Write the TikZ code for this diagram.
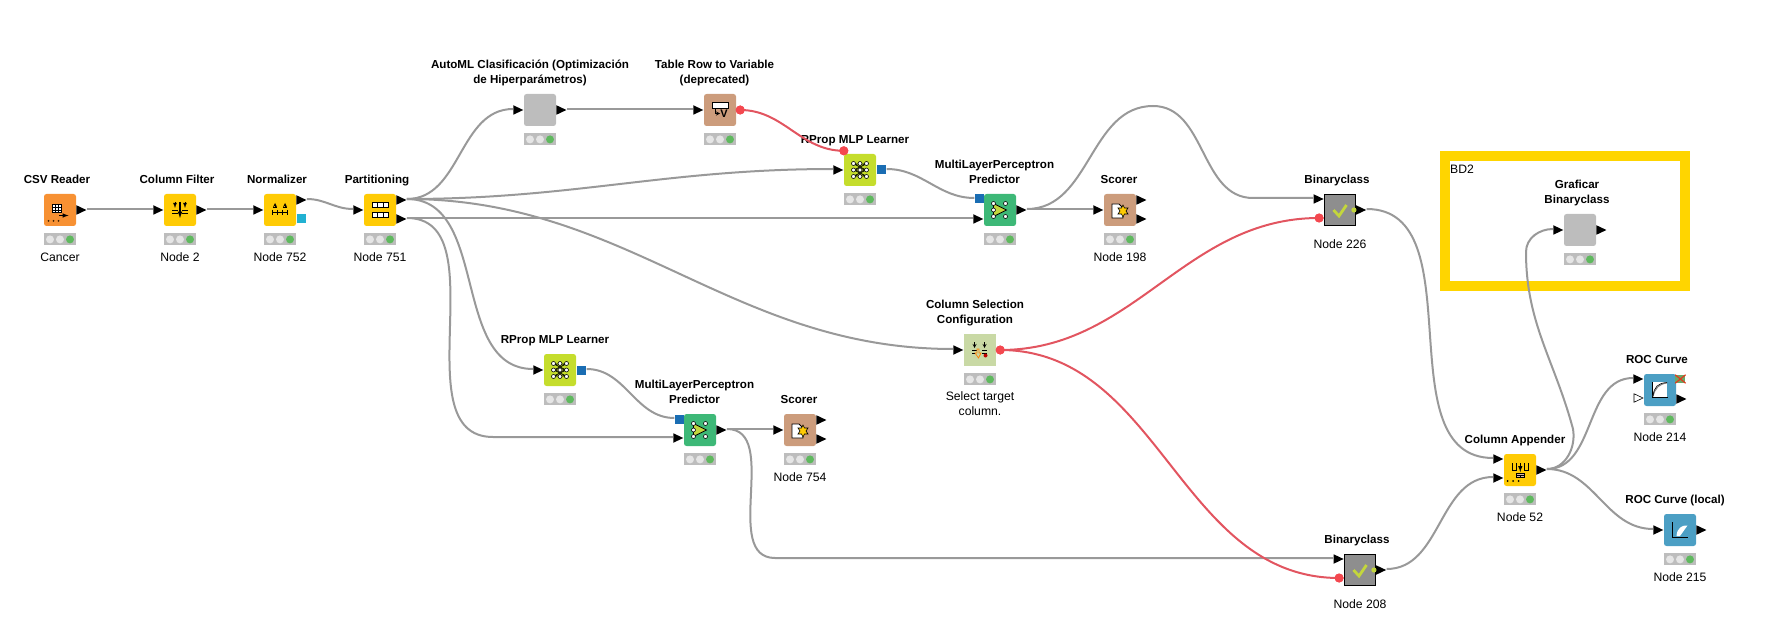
\documentclass[tikz,border=0pt]{standalone}
\usepackage{fontspec}
\setmainfont{Liberation Sans}
\usetikzlibrary{positioning,shapes.geometric}
\definecolor{wireGray}{HTML}{999999}
\definecolor{wireRed}{HTML}{E25560}
\definecolor{portRed}{HTML}{F4484F}
\definecolor{portBlue}{HTML}{1A6DB3}
\definecolor{portCyan}{HTML}{22B1D2}
\definecolor{readerOrange}{HTML}{F79133}
\definecolor{manipYellow}{HTML}{FFCB05}
\definecolor{otherTan}{HTML}{CC9C7C}
\definecolor{metaGray}{HTML}{BDBDBD}
\definecolor{learnLime}{HTML}{C5DD2C}
\definecolor{predGreen}{HTML}{3DB877}
\definecolor{configGreen}{HTML}{C9D9A5}
\definecolor{viewBlue}{HTML}{4C9FC4}
\definecolor{binGray}{HTML}{8E8E8E}
\definecolor{checkLime}{HTML}{C3D63C}
\definecolor{lampGreen}{HTML}{5FB95E}
\definecolor{frameGold}{HTML}{FFD500}
\begin{document}
\begin{tikzpicture}[
        x=1pt, y=-1pt,
        knimeNode/.style={rectangle, rounded corners=2.5pt, minimum size=32pt, inner sep=0pt},
        binNode/.style={rectangle, draw=black, line width=0.8pt, fill=binGray, minimum size=31pt, inner sep=0pt},
        lightBar/.style={rectangle, fill=metaGray, minimum width=32pt, minimum height=12pt, inner sep=0pt},
        inPort/.style={isosceles triangle, isosceles triangle stretches, fill=black, minimum width=9.5pt, minimum height=10pt, inner sep=0pt, anchor=east},
        outPort/.style={isosceles triangle, isosceles triangle stretches, fill=black, minimum width=9.5pt, minimum height=10pt, inner sep=0pt, anchor=west},
        redPort/.style={circle, fill=portRed, minimum size=9pt, inner sep=0pt},
        modelPort/.style={rectangle, minimum size=9pt, inner sep=0pt},
        titleText/.style={font=\fontsize{11.6}{15}\selectfont\bfseries, align=center, inner sep=0pt, execute at end node=\strut},
        noteText/.style={font=\fontsize{12.2}{15}\selectfont, align=center, inner sep=0pt, execute at begin node=\strut},
        wire/.style={draw=wireGray, line width=2pt, transform canvas={yshift=1pt}},
        redWire/.style={draw=wireRed, line width=2pt},
        iconLine/.style={draw=black, line width=0.8pt},
        iconReader/.pic={
            \draw[iconLine, fill=white] (-7.5,-6) rectangle (1.5,2.5);
            \draw[iconLine] (-7.5,-3) -- (1.5,-3) (-7.5,0) -- (1.5,0) (-4.5,-6) -- (-4.5,2.5) (-1.5,-6) -- (-1.5,2.5);
            \draw[iconLine, line width=1pt, -latex] (-1,5.5) -- (8.5,5.5);
            \foreach \dx in {-11.5,-6.5,-1.5} \fill[black!75!orange] (\dx,11) circle[radius=1pt];
        },
        iconFilter/.pic={
            \draw[iconLine, line width=1.2pt, -latex] (0,-8) -- (0,8);
            \foreach \dx in {-5,5} {
                \draw[iconLine, -latex] (\dx,-8) -- (\dx,-2);
                \draw[iconLine] (\dx-3,0) -- (\dx+3,0) (\dx-3,3) -- (\dx+3,3);
            }
        },
        iconNorm/.pic={
            \draw[iconLine] (-8,2) -- (8,2);
            \foreach \dx in {-7.5,-2.5,2.5,7.5} \draw[iconLine] (\dx,0) -- (\dx,5);
            \foreach \dx in {-5,5} {
                \draw[iconLine] (\dx-2,-3) -- (\dx+2,-3);
                \draw[iconLine, -stealth] (\dx,-2) -- (\dx,-7);
            }
        },
        iconPart/.pic={
            \foreach \ty/\by in {-7.5/-2.5,2.5/7.5} {
                \draw[iconLine, fill=white] (-7.5,\ty) rectangle (8,\by);
                \draw[iconLine] (-2.5,\ty) -- (-2.5,\by) (3,\ty) -- (3,\by);
            }
        },
        iconVar/.pic={
            \draw[iconLine, fill=white] (-7.5,-7.5) rectangle (8,-2);
            \draw[iconLine, -stealth] (-5,-0.5) -- (-5,3.5) -- (0,3.5);
            \node[font=\fontsize{11}{11}\selectfont\bfseries, inner sep=0pt] (iconVarV) at (4,3.5) {V};
        },
        iconNet/.pic={
            \draw[iconLine] (-6,-6) -- (6,0) -- (-6,6) (6,-6) -- (-6,0) -- (6,6) (-6,-6) -- (6,-6) (-6,0) -- (6,0) (-6,6) -- (6,6);
            \foreach \px in {-6.5,0,6.5} \foreach \py in {-6.5,0,6.5}
                \draw[black, line width=0.6pt, fill=white] (\px,\py) circle[radius=2pt];
        },
        iconPred/.pic={
            \draw[black, line width=0.7pt, fill=checkLime] (-6.5,-6.5) -- (6.5,0) -- (-6.5,6.5) -- cycle;
            \foreach \px/\py in {-6.5/-6.5,-6.5/0,-6.5/6.5,5.5/-6.5,5.5/6.5}
                \draw[black, line width=0.6pt, fill=white] (\px,\py) circle[radius=2pt];
        },
        iconScore/.pic={
            \draw[iconLine, fill=white] (-8,-6) -- (-1,-6) -- (3,-2) -- (3,8) -- (-8,8) -- cycle;
            \draw[black, line width=0.6pt, fill=manipYellow] (3,-5) -- (4.5,-2) -- (8,-2) -- (6,1) -- (8,4) -- (4.5,4)
                -- (3,7) -- (1.5,4) -- (-2,4) -- (0,1) -- (-2,-2) -- (1.5,-2) -- cycle;
        },
        iconSelect/.pic={
            \foreach \dx in {-5.5,4.5} {
                \draw[iconLine, -stealth] (\dx,-8) -- (\dx,-2);
                \draw[iconLine] (\dx-2.5,0) -- (\dx+2.5,0) (\dx-2.5,3) -- (\dx+2.5,3);
            }
            \draw[orange, line width=0.7pt, fill=configGreen] (-3,-1) -- (-1,-1) -- (-1,3) -- (1,3) -- (-1.5,8) -- (-5,3) -- (-3,3) -- cycle;
            \fill[red!75!black] (5.5,5.5) circle[radius=2pt];
        },
        iconAppend/.pic={
            \draw[iconLine] (-7.5,-7) -- (-7.5,0) -- (-4,0) -- (-4,-7) (4.5,-7) -- (4.5,0) -- (8,0) -- (8,-7);
            \draw[iconLine, line width=1pt, -latex] (0.3,-7) -- (0.3,2);
            \draw[iconLine, fill=otherTan!70!white] (-3.5,3) rectangle (4.5,7.5);
            \draw[iconLine] (-3.5,5) -- (4.5,5) (0.5,5) -- (0.5,7.5);
            \foreach \dx in {-12.5,-7,-1.5} \fill[black] (\dx,11) circle[radius=1pt];
        },
        iconRoc/.pic={
            \fill[white] (-7,-8) rectangle (7,7);
            \draw[iconLine] (-7.5,-8) -- (-7.5,7) -- (8,7);
            \draw[black!50, line width=1pt] (-7,6.5) .. controls (-5,-2) and (-1,-6) .. (7,-7);
            \draw[black, line width=0.6pt] (-7,6) .. controls (-6,-3) and (-2,-7) .. (7,-7.5);
        },
        iconRocLocal/.pic={
            \fill[white] (-3.5,6) .. controls (-3,-2) and (2,-5) .. (7.5,-4.5) -- (0,6) -- cycle;
            \draw[iconLine] (-7.5,-8) -- (-7.5,7.5) -- (8,7.5);
        },
        iconCheck/.pic={
            \draw[checkLime, line width=2.8pt] (-6.5,0) -- (-1,6) -- (6.5,-5);
        }
    ]
        \useasboundingbox (0,0) rectangle (1792,639);

        % Frame around the plotting component
        \node[rectangle, draw=frameGold, line width=10pt, minimum width=240pt, minimum height=130pt, inner sep=0pt] (bdFrame) at (1565,221) {};
        \node[font=\fontsize{12.2}{15}\selectfont, inner sep=0pt, anchor=west] (bdLabel) at (1450,169) {BD2};

        % Nodes
        \node[knimeNode, fill=readerOrange] (csvReader) at (60,210) {};
        \node[knimeNode, fill=manipYellow] (colFilter) at (180,210) {};
        \node[knimeNode, fill=manipYellow] (normalizer) at (280,210) {};
        \node[knimeNode, fill=manipYellow] (partitioning) at (380,210) {};
        \node[knimeNode, fill=metaGray] (autoML) at (540,110) {};
        \node[knimeNode, fill=otherTan] (rowToVar) at (720,110) {};
        \node[knimeNode, fill=learnLime] (rpropTop) at (860,170) {};
        \node[knimeNode, fill=predGreen] (predTop) at (1000,210) {};
        \node[knimeNode, fill=otherTan] (scorerTop) at (1120,210) {};
        \node[binNode] (binTop) at (1340,210) {};
        \node[knimeNode, fill=learnLime] (rpropLow) at (560,370) {};
        \node[knimeNode, fill=predGreen] (predLow) at (700,430) {};
        \node[knimeNode, fill=otherTan] (scorerLow) at (800,430) {};
        \node[knimeNode, rounded corners=0pt, fill=configGreen] (colSelect) at (980,350) {};
        \node[binNode] (binLow) at (1360,570) {};
        \node[knimeNode, fill=manipYellow] (colAppend) at (1520,470) {};
        \node[knimeNode, fill=viewBlue] (rocCurve) at (1660,390) {};
        \node[knimeNode, fill=viewBlue] (rocLocal) at (1680,530) {};
        \node[knimeNode, fill=metaGray] (graficar) at (1580,230) {};

        % Icons
        \pic at (csvReader) {iconReader};
        \pic at (colFilter) {iconFilter};
        \pic at (normalizer) {iconNorm};
        \pic at (partitioning) {iconPart};
        \pic at (rowToVar) {iconVar};
        \pic at (rpropTop) {iconNet};
        \pic at (rpropLow) {iconNet};
        \pic at (predTop) {iconPred};
        \pic at (predLow) {iconPred};
        \pic at (scorerTop) {iconScore};
        \pic at (scorerLow) {iconScore};
        \pic at (colSelect) {iconSelect};
        \pic at (colAppend) {iconAppend};
        \pic at (rocCurve) {iconRoc};
        \pic at (rocLocal) {iconRocLocal};
        \pic at (binTop) {iconCheck};
        \pic at (binLow) {iconCheck};

        % Status lights
        \foreach \n in {csvReader,colFilter,normalizer,partitioning,autoML,rowToVar,rpropTop,predTop,scorerTop,rpropLow,predLow,scorerLow,colSelect,colAppend,rocCurve,rocLocal,graficar} {
            \node[lightBar, below=7pt of \n] (\n Light) {};
            \fill[white!90!black] ([xshift=-10pt]\n Light.center) circle[radius=4pt];
            \fill[white!90!black] (\n Light.center) circle[radius=4pt];
            \fill[lampGreen] ([xshift=10pt]\n Light.center) circle[radius=4pt];
        }

        % Titles
        \node[titleText, above=5.5pt of csvReader, xshift=-3pt] (csvReaderTitle) {CSV Reader};
        \node[titleText, above=5.5pt of colFilter, xshift=-3pt] (colFilterTitle) {Column Filter};
        \node[titleText, above=5.5pt of normalizer, xshift=-3pt] (normalizerTitle) {Normalizer};
        \node[titleText, above=5.5pt of partitioning, xshift=-3pt] (partitioningTitle) {Partitioning};
        \node[titleText, above=5.5pt of autoML, xshift=-10pt] (autoMLTitle) {AutoML Clasificación (Optimización\\de Hiperparámetros)};
        \node[titleText, above=5.5pt of rowToVar, xshift=-5.5pt] (rowToVarTitle) {Table Row to Variable\\(deprecated)};
        \node[titleText, above=5.5pt of rpropTop, xshift=-5pt] (rpropTopTitle) {RProp MLP Learner};
        \node[titleText, above=5.5pt of predTop, xshift=-5.5pt] (predTopTitle) {MultiLayerPerceptron\\Predictor};
        \node[titleText, above=5.5pt of scorerTop, xshift=-1pt] (scorerTopTitle) {Scorer};
        \node[titleText, above=5.5pt of binTop, xshift=-3pt] (binTopTitle) {Binaryclass};
        \node[titleText, above=5.5pt of rpropLow, xshift=-5pt] (rpropLowTitle) {RProp MLP Learner};
        \node[titleText, above=5.5pt of predLow, xshift=-5.5pt] (predLowTitle) {MultiLayerPerceptron\\Predictor};
        \node[titleText, above=5.5pt of scorerLow, xshift=-1pt] (scorerLowTitle) {Scorer};
        \node[titleText, above=5.5pt of colSelect, xshift=-5pt] (colSelectTitle) {Column Selection\\Configuration};
        \node[titleText, above=5.5pt of binLow, xshift=-3pt] (binLowTitle) {Binaryclass};
        \node[titleText, above=5.5pt of colAppend, xshift=-5pt] (colAppendTitle) {Column Appender};
        \node[titleText, above=5.5pt of rocCurve, xshift=-3pt] (rocCurveTitle) {ROC Curve};
        \node[titleText, above=5.5pt of rocLocal, xshift=-5pt] (rocLocalTitle) {ROC Curve (local)};
        \node[titleText, above=5.5pt of graficar, xshift=-3pt] (graficarTitle) {Graficar\\Binaryclass};

        % Notes below the nodes
        \node[noteText, below=5.5pt of csvReaderLight] (csvReaderNote) {Cancer};
        \node[noteText, below=5.5pt of colFilterLight] (colFilterNote) {Node 2};
        \node[noteText, below=5.5pt of normalizerLight] (normalizerNote) {Node 752};
        \node[noteText, below=5.5pt of partitioningLight] (partitioningNote) {Node 751};
        \node[noteText, below=5.5pt of scorerTopLight] (scorerTopNote) {Node 198};
        \node[noteText, below=11.5pt of binTop] (binTopNote) {Node 226};
        \node[noteText, below=5.5pt of scorerLowLight] (scorerLowNote) {Node 754};
        \node[noteText, below=5.5pt of colSelectLight] (colSelectNote) {Select target\\column.};
        \node[noteText, below=11.5pt of binLow] (binLowNote) {Node 208};
        \node[noteText, below=5.5pt of colAppendLight] (colAppendNote) {Node 52};
        \node[noteText, below=5.5pt of rocCurveLight] (rocCurveNote) {Node 214};
        \node[noteText, below=5.5pt of rocLocalLight] (rocLocalNote) {Node 215};

        % Ports
        \foreach \n in {colFilter,normalizer,partitioning,autoML,rowToVar,rpropTop,scorerTop,rpropLow,scorerLow,colSelect,rocLocal,graficar}
            \node[inPort] (\n In) at (\n.west) {};
        \foreach \n in {csvReader,colFilter,autoML,predTop,predLow,colAppend,rocLocal,graficar}
            \node[outPort] (\n Out) at (\n.east) {};
        \node[outPort] (normalizerOut) at ([yshift=10pt]normalizer.east) {};
        \node[modelPort, fill=portCyan, anchor=west] (normalizerModel) at ([xshift=1pt,yshift=-9pt]normalizer.east) {};
        \node[outPort] (partitioningOutA) at ([yshift=10pt]partitioning.east) {};
        \node[outPort] (partitioningOutB) at ([yshift=-9pt]partitioning.east) {};
        \node[redPort] (rowToVarRed) at ([xshift=4pt]rowToVar.east) {};
        \node[redPort] (rpropTopRed) at ([yshift=3pt]rpropTop.north west) {};
        \node[modelPort, fill=portBlue, anchor=west] (rpropTopModel) at ([xshift=1pt]rpropTop.east) {};
        \node[modelPort, fill=portBlue, anchor=east] (predTopModel) at ([yshift=11pt]predTop.west) {};
        \node[inPort] (predTopIn) at ([yshift=-9pt]predTop.west) {};
        \node[outPort] (scorerTopOutA) at ([yshift=10pt]scorerTop.east) {};
        \node[outPort] (scorerTopOutB) at ([yshift=-9pt]scorerTop.east) {};
        \node[inPort] (binTopIn) at ([yshift=11pt]binTop.west) {};
        \node[redPort] (binTopRed) at ([xshift=-5pt,yshift=-8pt]binTop.west) {};
        \node[outPort] (binTopOut) at (binTop.east) {};
        \fill[checkLime] ([xshift=-2pt]binTop.east) circle[radius=2.6pt];
        \node[modelPort, fill=portBlue, anchor=west] (rpropLowModel) at ([xshift=1pt]rpropLow.east) {};
        \node[modelPort, fill=portBlue, anchor=east] (predLowModel) at ([yshift=11pt]predLow.west) {};
        \node[inPort] (predLowIn) at ([yshift=-8pt]predLow.west) {};
        \node[outPort] (scorerLowOutA) at ([yshift=10pt]scorerLow.east) {};
        \node[outPort] (scorerLowOutB) at ([yshift=-9pt]scorerLow.east) {};
        \node[redPort] (colSelectRed) at ([xshift=4pt]colSelect.east) {};
        \node[inPort] (binLowIn) at ([yshift=11pt]binLow.west) {};
        \node[redPort] (binLowRed) at ([xshift=-5pt,yshift=-8pt]binLow.west) {};
        \node[outPort] (binLowOut) at (binLow.east) {};
        \fill[checkLime] ([xshift=-2pt]binLow.east) circle[radius=2.6pt];
        \node[inPort] (colAppendInA) at ([yshift=11pt]colAppend.west) {};
        \node[inPort] (colAppendInB) at ([yshift=-8pt]colAppend.west) {};
        \node[inPort] (rocCurveIn) at ([yshift=11pt]rocCurve.west) {};
        \node[inPort, fill=white, draw=black, line width=0.6pt, minimum width=8.5pt, minimum height=9pt] (rocCurveColor) at ([yshift=-8pt]rocCurve.west) {};
        \node[outPort] (rocCurveOut) at ([yshift=-9pt]rocCurve.east) {};
        \node[rectangle, fill=lampGreen!70!gray, minimum width=10pt, minimum height=8pt, inner sep=0pt, anchor=west] (rocCurveVar) at ([xshift=-1pt,yshift=11pt]rocCurve.east) {};
        \draw[red!55!brown, line width=1.2pt] (rocCurveVar.north west) -- (rocCurveVar.south east) (rocCurveVar.south west) -- (rocCurveVar.north east);

        % Helper points on the long connectors
        \coordinate (humpTop) at (1153,107);
        \coordinate (humpEnd) at (1253,199);
        \coordinate (predLowVia) at (493,438);
        \coordinate (binLowVia) at (775,559);
        \coordinate (graficarViaA) at (1573,430);
        \coordinate (graficarViaB) at (1526,253);

        % Grey connectors
        \draw[wire] (csvReaderOut.east) -- (colFilterIn.west);
        \draw[wire] (colFilterOut.east) -- (normalizerIn.west);
        \draw[wire] (normalizerOut.east) to[out=0,in=180] (partitioningIn.west);
        \draw[wire] (partitioningOutA.east) to[out=0,in=180] (autoMLIn.west);
        \draw[wire] (partitioningOutA.east) to[out=0,in=180] (rpropTopIn.west);
        \draw[wire] (partitioningOutA.east) to[out=0,in=180] (colSelectIn.west);
        \draw[wire] (partitioningOutA.east) to[out=0,in=180] (rpropLowIn.west);
        \draw[wire] (partitioningOutB.east) -- (predTopIn.west);
        \draw[wire] (partitioningOutB.east) to[out=0,in=180] (predLowVia) -- (predLowIn.west);
        \draw[wire] (autoMLOut.east) -- (rowToVarIn.west);
        \draw[wire] (rpropTopModel.east) to[out=0,in=180] (predTopModel.west);
        \draw[wire] (rpropLowModel.east) to[out=0,in=180] (predLowModel.west);
        \draw[wire] (predTopOut.east) -- (scorerTopIn.west);
        \draw[wire] (predTopOut.east) to[out=0,in=180] (humpTop) to[out=0,in=180] (humpEnd) -- (binTopIn.west);
        \draw[wire] (predLowOut.east) -- (scorerLowIn.west);
        \draw[wire] (predLowOut.east) to[out=0,in=180] (binLowVia) -- (binLowIn.west);
        \draw[wire] (binTopOut.east) to[out=0,in=180] (colAppendInA.west);
        \draw[wire] (binLowOut.east) to[out=0,in=180] (colAppendInB.west);
        \draw[wire] (colAppendOut.east) to[out=0,in=180] (rocCurveIn.west);
        \draw[wire] (colAppendOut.east) to[out=0,in=180] (rocLocalIn.west);
        \draw[wire] (colAppendOut.east) to[out=0,in=-80] (graficarViaA) to[out=105,in=-90] (graficarViaB) to[out=90,in=180] (graficarIn.west);

        % Red connectors
        \draw[redWire] (rowToVarRed.center) to[out=0,in=180] (rpropTopRed.center);
        \draw[redWire] (colSelectRed.center) to[out=0,in=180] (binTopRed.center);
        \draw[redWire] (colSelectRed.center) to[out=0,in=180] (binLowRed.center);
        \node[redPort] (rowToVarRedTop) at (rowToVarRed) {};
        \node[redPort] (rpropTopRedTop) at (rpropTopRed) {};
        \node[redPort] (colSelectRedTop) at (colSelectRed) {};
        \node[redPort] (binTopRedTop) at (binTopRed) {};
        \node[redPort] (binLowRedTop) at (binLowRed) {};
    \end{tikzpicture}
\end{document}
